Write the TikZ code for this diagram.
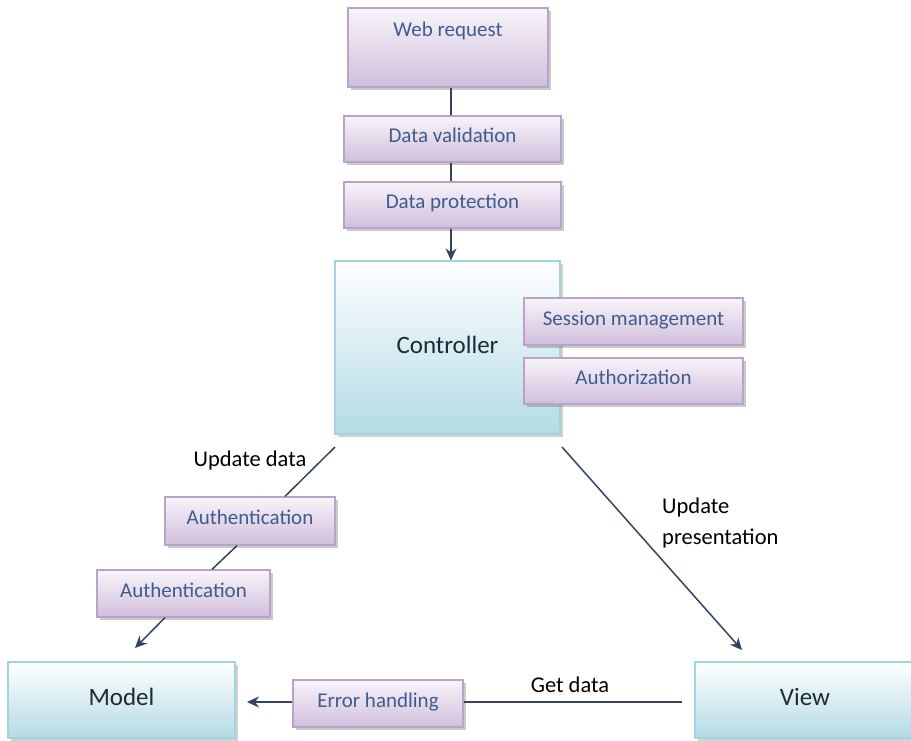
\documentclass[tikz,border=0pt]{standalone}
\usepackage{fontspec}
\setmainfont{Carlito}
\usetikzlibrary{arrows.meta,shadows,calc}
\definecolor{pTop}{HTML}{F8F4FA}
\definecolor{pBot}{HTML}{D0BEDB}
\definecolor{pLine}{HTML}{B9A3C9}
\definecolor{cTop}{HTML}{FFFFFF}
\definecolor{cBot}{HTML}{B3DBE5}
\definecolor{cLine}{HTML}{A3D3DE}
\definecolor{txtBlue}{HTML}{3F5C8C}
\definecolor{lineCol}{HTML}{344360}
\definecolor{bigTxt}{HTML}{1E2A38}
\tikzset{
  pbox/.style={draw=pLine, line width=1.2pt, top color=pTop, bottom color=pBot,
    text=txtBlue, font=\fontsize{21}{25}\selectfont, inner sep=0pt,
    text height=14pt, text depth=7pt,
    drop shadow={shadow xshift=3pt, shadow yshift=-3pt, opacity=0.35, fill=black!60}},
  cbox/.style={draw=cLine, line width=1.2pt, top color=cTop, bottom color=cBot,
    text=bigTxt, font=\fontsize{25}{30}\selectfont, inner sep=0pt,
    text height=16pt, text depth=5pt,
    drop shadow={shadow xshift=3pt, shadow yshift=-3pt, opacity=0.3, fill=black!60}},
  conn/.style={draw=lineCol, line width=1.5pt},
  arr/.style={conn, -{Stealth[length=12pt,width=11pt]}},
  lbl/.style={text=black, font=\fontsize{22.5}{31}\selectfont, inner sep=0pt},
}
\begin{document}
\begin{tikzpicture}[x=1pt,y=-1pt]
\useasboundingbox (0,0) rectangle (911,740);
% top chain
\node[pbox, minimum width=200pt, minimum height=79pt,
  label={[anchor=center, yshift=-23pt, text=txtBlue, font=\fontsize{21}{25}\selectfont]north:Web request}]
  (web) at (448,47.5) {};
\node[pbox, minimum width=217pt, minimum height=46pt] (val) at (452.5,139) {Data validation};
\node[pbox, minimum width=217pt, minimum height=46pt] (prot) at (452.5,205) {Data protection};
\node[cbox, minimum width=225pt, minimum height=173pt] (ctrl) at (447.5,347.5) {Controller};
\node[pbox, minimum width=219pt, minimum height=47pt] (sess) at (633.5,321.5) {Session management};
\node[pbox, minimum width=219pt, minimum height=46pt] (authz) at (633.5,381) {Authorization};
\draw[conn] (web.south -| 451,0) -- (val.north -| 451,0);
\draw[conn] (val.south -| 451,0) -- (prot.north -| 451,0);
\draw[arr] (prot.south -| 451,0) -- (ctrl.north -| 451,0);
% left branch
\node[lbl] (upd) at (250,460) {Update data};
\node[pbox, minimum width=170pt, minimum height=48pt] (auth1) at (250,521) {Authentication};
\node[pbox, minimum width=173pt, minimum height=47pt] (auth2) at (183.5,593.5) {Authentication};
\node[cbox, minimum width=227pt, minimum height=76pt] (model) at (121.5,700) {Model};
\coordinate (c1) at (335,447);
\coordinate (m1) at (135,648);
\draw[conn] (c1) -- ($(auth1.north)+(35,0)$);
\draw[conn] ($(auth1.south)+(-13,0)$) -- ($(auth2.north)+(28.5,0)$);
\draw[arr] ($(auth2.south)+(-18.5,0)$) -- (m1);
% right branch
\node[cbox, minimum width=220pt, minimum height=76pt] (view) at (805,700) {View};
\node[lbl, align=left, anchor=north west] (updp) at (662,498) {Update\\presentation};
\coordinate (c2) at (562,447);
\coordinate (v1) at (742,650);
\draw[arr] (c2) -- (v1);
% bottom
\node[pbox, minimum width=170pt, minimum height=47pt] (err) at (378,703.5) {Error handling};
\node[lbl] (get) at (570,685) {Get data};
\coordinate (v2) at (682,702);
\coordinate (m2) at (247,702);
\draw[conn] (v2) -- (err.east |- v2);
\draw[arr] (err.west |- m2) -- (m2);
\end{tikzpicture}
\end{document}
